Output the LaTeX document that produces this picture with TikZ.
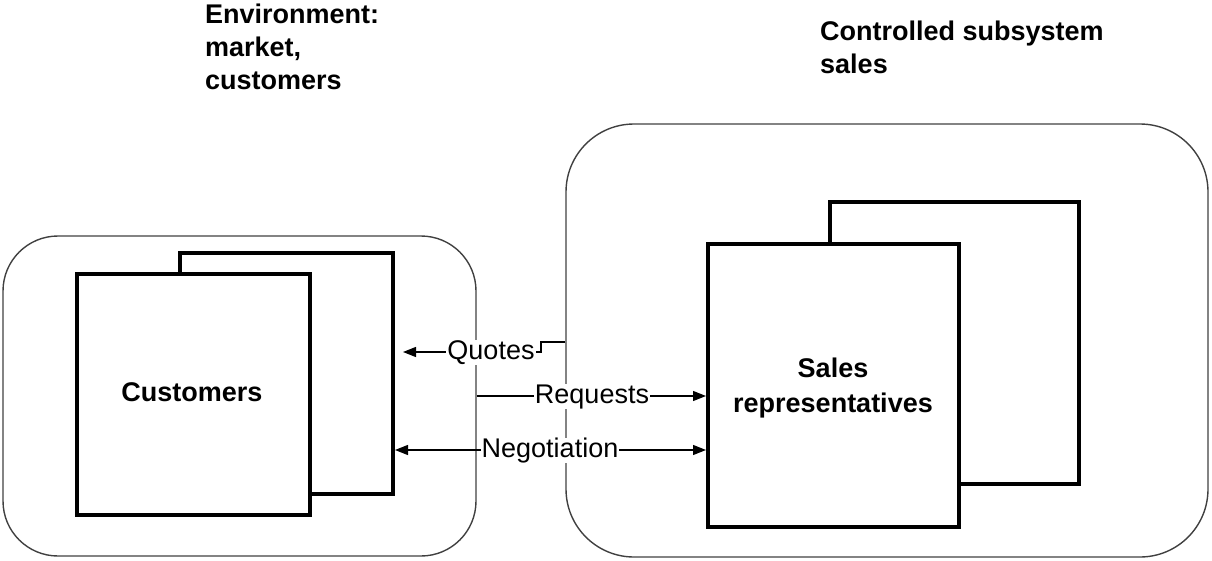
\documentclass[tikz,border=0pt]{standalone}
\usepackage{fontspec}
\setmainfont{Liberation Sans}
\usetikzlibrary{arrows.meta,calc}
\tikzset{
  cont/.style={draw=black!75, line width=1.4pt, rounded corners=#1, inner sep=0pt, fill=none},
  box/.style={draw=black, line width=4pt, fill=white, inner sep=0pt},
  conn/.style={draw=black, line width=1.3pt},
  tipend/.style={-{Triangle[length=13pt,width=10pt]}},
  tipboth/.style={{Triangle[length=13pt,width=10pt]}-{Triangle[length=13pt,width=10pt]}},
  lbl/.style={fill=white, inner xsep=1pt, inner ysep=0pt, text height=20pt, text depth=5pt, font=\fontsize{27}{30}\selectfont},
  boxtext/.style={align=center, font=\bfseries\fontsize{27}{35}\selectfont, inner sep=0pt},
  title/.style={align=left, anchor=base west, font=\bfseries\fontsize{27}{33}\selectfont, inner sep=0pt},
}
\begin{document}
\begin{tikzpicture}[x=1pt,y=-1pt]
\useasboundingbox (0,0) rectangle (1212,560);
% containers
\node[cont=55pt, minimum width=473pt, minimum height=320pt] (env) at (239.5,396) {};
\node[cont=68pt, minimum width=642pt, minimum height=433pt] (sub) at (887,340.5) {};
% titles (base anchor = last line)
\node[title] (envtitle) at (205,89) {Environment:\\market,\\customers};
\node[title] (subtitle) at (820,73) {Controlled subsystem\\sales};
% customer boxes
\node[box, minimum width=213pt, minimum height=241pt] (custback) at (286.5,373.5) {};
\node[box, minimum width=233pt, minimum height=241pt] (custfront) at (193.5,394.5) {};
\node[boxtext, anchor=base] (custtext) at (192,401) {Customers};
% sales boxes
\node[box, minimum width=249pt, minimum height=282pt] (salesback) at (954.5,343) {};
\node[box, minimum width=251pt, minimum height=283pt] (salesfront) at (833.5,385.5) {};
\node[boxtext, anchor=base] (salestext) at (833,412) {Sales\\representatives};
% connectors
\coordinate (qs) at (sub.west |- 0,342);
\coordinate (qbend1) at (541,342);
\coordinate (qbend2) at (541,352);
\coordinate (qend) at (403,352);
\draw[conn, tipend] (qs) -- (qbend1) -- (qbend2) -- (qend);
\draw[conn, tipend] (env.east |- 0,396) -- (salesfront.west |- 0,396);
\draw[conn, tipboth] (custback.east |- 0,450) -- (salesfront.west |- 0,450);
% labels
\node[lbl] (lq) at (491,352) {Quotes};
\node[lbl] (lr) at (592,396) {Requests};
\node[lbl] (ln) at (550,450) {Negotiation};
\end{tikzpicture}
\end{document}
